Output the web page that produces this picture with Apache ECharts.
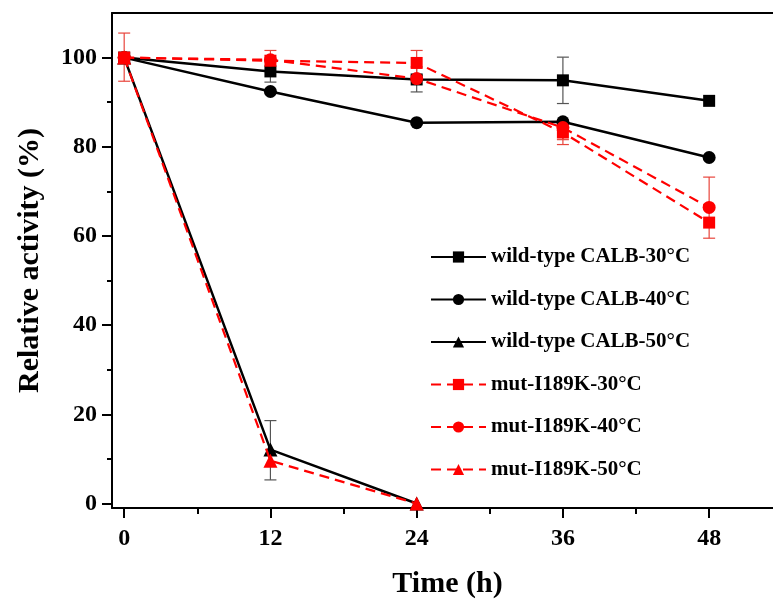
<!DOCTYPE html>
<html>
<head>
<meta charset="utf-8">
<script src="https://cdn.jsdelivr.net/npm/echarts@6/dist/echarts.min.js"></script>
<style>
  html, body { margin: 0; padding: 0; background: #fff; }
  #chart { width: 773px; height: 604px; }
</style>
</head>
<body>
<div id="chart"></div>
<script>
// data
const hours = [0, 12, 24, 36, 48];
const wild30 = [100, 96.9, 95.1, 94.9, 90.3];
const wild40 = [100, 92.4, 85.4, 85.6, 77.6];
const wild50 = [100, 12.1, 0, null, null];
const mut30 = [100, 99.3, 98.8, 83.2, 63.0];
const mut40 = [100, 99.5, 95.3, 84.3, 66.4];
const mut50 = [100, 9.6, 0, null, null];

// error bars: [hour, low, high]
const blackErr = [[12, 94.5, 99.3], [24, 92.3, 97.9], [36, 89.7, 100.1], [12, 5.3, 18.6]];
const redErr = [[0, 94.7, 105.5], [12, 96.9, 101.6], [24, 96.0, 101.6], [36, 80.5, 86.0], [36, 81.6, 85.0], [48, 59.5, 73.2]];

const xLabels = [0, 12, 24, 36, 48];
const xMinor = [6, 18, 30, 42];
const yLabels = [0, 20, 40, 60, 80, 100];
const yMinor = [10, 30, 50, 70, 90];

const font = "Liberation Serif";
const pairs = (vals) => hours.map((h, i) => [h, vals[i]]).filter((p) => p[1] !== null);

let myChart = echarts.init(document.getElementById("chart"));

const errSeries = function (data, color) {
  return {
    type: "custom",
    data: data,
    z: 1,
    silent: true,
    renderItem: function (params, api) {
      const x = api.value(0);
      const lo = api.coord([x, api.value(1)]);
      const hi = api.coord([x, api.value(2)]);
      const cap = 6;
      const style = { stroke: color, lineWidth: 1.2, fill: null };
      return {
        type: "group",
        children: [
          { type: "line", shape: { x1: lo[0], y1: lo[1], x2: hi[0], y2: hi[1] }, style: style },
          { type: "line", shape: { x1: lo[0] - cap, y1: lo[1], x2: lo[0] + cap, y2: lo[1] }, style: style },
          { type: "line", shape: { x1: hi[0] - cap, y1: hi[1], x2: hi[0] + cap, y2: hi[1] }, style: style },
        ],
      };
    },
  };
};

const lineSeries = function (name, vals, color, dashed, symbol, size) {
  return {
    name: name,
    type: "line",
    data: pairs(vals),
    symbol: symbol,
    symbolSize: size,
    z: dashed ? 4 : 3,
    itemStyle: { color: color },
    lineStyle: { color: color, width: dashed ? 2.2 : 2.5, type: dashed ? [10, 6] : "solid" },
  };
};

const axisBase = {
  type: "value",
  splitLine: { show: false },
  axisLine: { show: true, onZero: false, lineStyle: { color: "#000", width: 2 } },
};

let option = {
  animation: false,
  grid: {
    left: 112,
    top: 13,
    right: 0,
    bottom: 95,
  },
  legend: {
    orient: "vertical",
    left: 430,
    top: 246,
    padding: 0,
    itemWidth: 55,
    itemHeight: 14,
    itemGap: 20.5,
    textStyle: {
      color: "#000",
      fontFamily: font,
      fontWeight: "bold",
      fontSize: 21,
      lineHeight: 22,
    },
  },
  xAxis: [
    Object.assign({}, axisBase, {
      min: -1,
      max: 53.24,
      position: "bottom",
      name: "Time (h)",
      nameLocation: "middle",
      nameGap: 61,
      nameTextStyle: { color: "#000", fontFamily: font, fontWeight: "bold", fontSize: 30, padding: [0, 0, 0, 10] },
      axisTick: { customValues: xLabels, length: 10, lineStyle: { color: "#000", width: 2 } },
      axisLabel: { customValues: xLabels, margin: 19, color: "#000", fontFamily: font, fontWeight: "bold", fontSize: 24 },
    }),
    Object.assign({}, axisBase, {
      min: -1,
      max: 53.24,
      position: "bottom",
      axisLine: { show: false, onZero: false },
      axisTick: { customValues: xMinor, length: 6, lineStyle: { color: "#000", width: 2 } },
      axisLabel: { show: false },
    }),
    Object.assign({}, axisBase, {
      min: -1,
      max: 53.24,
      position: "top",
      axisTick: { show: false },
      axisLabel: { show: false },
    }),
  ],
  yAxis: [
    Object.assign({}, axisBase, {
      min: -1,
      max: 110,
      position: "left",
      name: "Relative activity (%)",
      nameLocation: "middle",
      nameGap: 67,
      nameRotate: 90,
      nameTextStyle: { color: "#000", fontFamily: font, fontWeight: "bold", fontSize: 30 },
      axisTick: { customValues: yLabels, length: 10, lineStyle: { color: "#000", width: 2 } },
      axisLabel: { customValues: yLabels, margin: 15, color: "#000", fontFamily: font, fontWeight: "bold", fontSize: 24 },
    }),
    Object.assign({}, axisBase, {
      min: -1,
      max: 110,
      position: "left",
      axisLine: { show: false, onZero: false },
      axisTick: { customValues: yMinor, length: 5, lineStyle: { color: "#000", width: 2 } },
      axisLabel: { show: false },
    }),
  ],
  series: [
    errSeries(blackErr, "#555"),
    errSeries(redErr, "#e8453c"),
    lineSeries("wild-type CALB-30°C", wild30, "#000", false, "rect", 12),
    lineSeries("wild-type CALB-40°C", wild40, "#000", false, "circle", 13),
    lineSeries("wild-type CALB-50°C", wild50, "#000", false, "triangle", 14),
    lineSeries("mut-I189K-30°C", mut30, "#ff0000", true, "rect", 12),
    lineSeries("mut-I189K-40°C", mut40, "#ff0000", true, "circle", 13),
    lineSeries("mut-I189K-50°C", mut50, "#ff0000", true, "triangle", 14),
  ],
};
myChart.setOption(option);
</script>
</body>
</html>
